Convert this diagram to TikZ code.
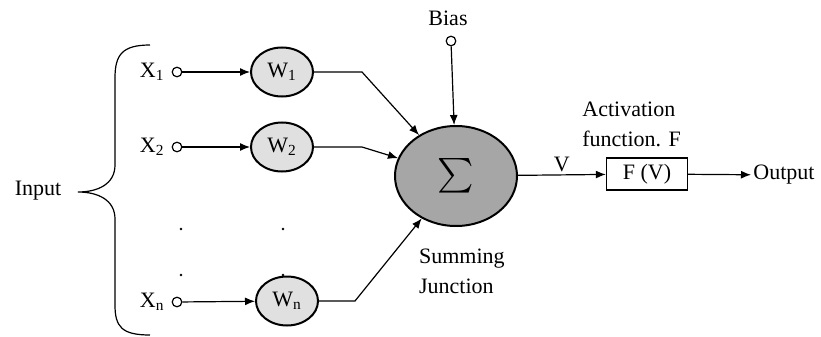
\documentclass[tikz,border=0pt]{standalone}
\usepackage{amsmath}
\usepackage{fontspec}
\setmainfont{Liberation Serif}
\usepackage{tikz}
\usetikzlibrary{arrows.meta,shapes.geometric}
\tikzset{
  inp/.style={circle,draw=black,fill=white,minimum size=4.8pt,inner sep=0pt,line width=.6pt},
  wt/.style={ellipse,draw=black,fill=black!12,minimum width=31pt,minimum height=24.5pt,inner sep=0pt,line width=1pt},
  sm/.style={ellipse,draw=black,fill=black!35,minimum width=61pt,minimum height=50pt,inner sep=0pt,line width=1pt},
  fbx/.style={rectangle,draw=black,fill=white,minimum width=40.5pt,minimum height=16pt,inner sep=0pt,line width=.7pt},
  arr/.style={-{Latex[length=5pt,width=4pt]},line width=.6pt,draw=black},
  lnk/.style={draw=black,line width=.6pt},
  lb/.style={font=\fontsize{11}{15}\selectfont},
}
\begin{document}
\begin{tikzpicture}[x=0.5pt,y=-0.5pt]
\useasboundingbox (0,0) rectangle (821,337);
% --- inputs and weights
\node[lb] (input) at (38,191) {Input};
\draw[lnk] (150,45) .. controls (122,45) and (115,55) .. (115,78) -- (115,165)
  .. controls (115,184) and (98,192) .. (78,192)
  .. controls (98,192) and (115,200) .. (115,219) -- (115,305)
  .. controls (115,327) and (122,335) .. (150,335);
\node[inp] (x1) at (177,72) {};
\node[inp] (x2) at (177,147) {};
\node[inp] (xn) at (177,302) {};
\node[lb,anchor=east] (x1lb) at (x1.west) {X\textsubscript{1}};
\node[lb,anchor=east] (x2lb) at (x2.west) {X\textsubscript{2}};
\node[lb,anchor=east] (xnlb) at (xn.west) {X\textsubscript{n}};
\node[wt,lb] (w1) at (282,72) {W\textsubscript{1}};
\node[wt,lb] (w2) at (282,147) {W\textsubscript{2}};
\node[wt,lb] (wn) at (287,301) {W\textsubscript{n}};
\draw[arr] (x1) -- (w1);
\draw[arr] (x2) -- (w2);
\draw[arr] (xn) -- (wn);
\foreach \px in {181,283}{
  \foreach \py in {229,275}{
    \fill (\px,\py) circle (0.7pt);
  }
}
% --- summing junction
\node[sm] (sum) at (456,176) {\LARGE$\sum$};
\node[lb,anchor=north west,align=left] (sumlb) at (412,242) {Summing\\Junction};
\draw[arr] (w1.east) -- ++(48,0) -- (sum);
\draw[arr] (w2.east) -- ++(48,0) -- (sum);
\draw[arr] (wn.east) -- ++(36,0) -- (sum);
\node[inp] (bias) at (451,41) {};
\node[lb,anchor=south] (biaslb) at (448,33) {Bias};
\draw[arr] (bias) -- (sum);
% --- activation and output
\node[fbx,lb] (fv) at (647,174) {F (V)};
\node[lb,anchor=north west,align=left,inner sep=0pt] (actlb) at (582,102) {Activation\\function. F};
\draw[arr] (sum) -- node[lb,above,inner sep=1pt] (vlb) {V} (fv);
\node[lb,anchor=west,inner sep=1pt] (out) at (751,175) {Output};
\draw[arr] (fv) -- (out);
\end{tikzpicture}
\end{document}
